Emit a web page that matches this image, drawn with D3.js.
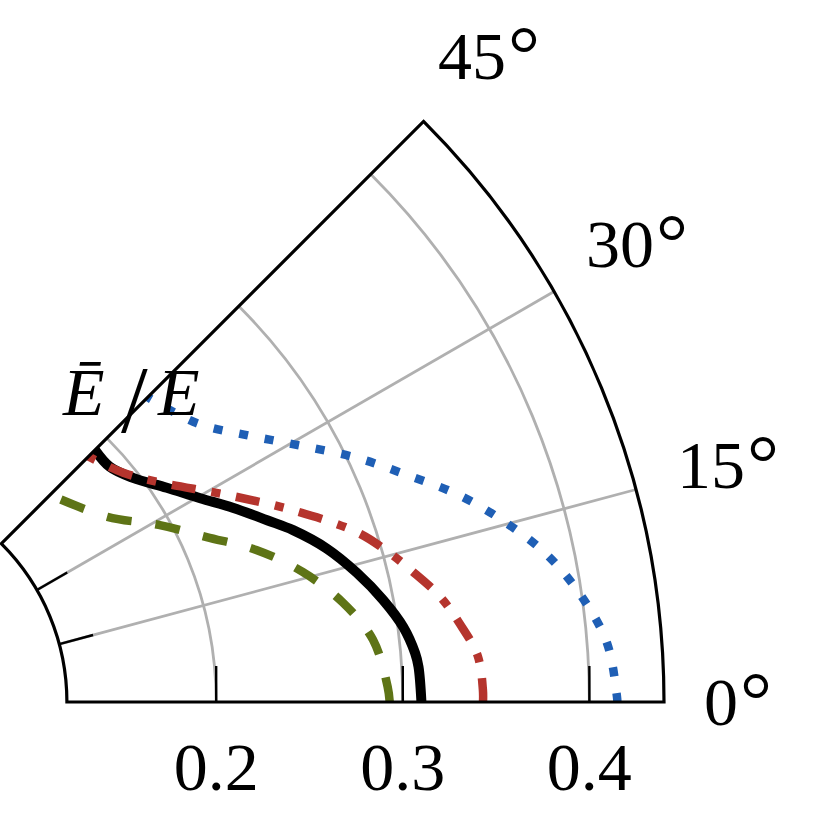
<!DOCTYPE html>
<html>
<head>
<meta charset="utf-8">
<script src="https://cdn.jsdelivr.net/npm/d3@7"></script>
<style>
  body { margin: 0; background: #fff; }
  svg { display: block; }
  text { font-family: "Liberation Serif", "DejaVu Serif", serif; fill: #000; }
</style>
</head>
<body>
<div id="chart"></div>
<script>
// axis settings
const rMin = 0.12, rMax = 0.44;
const thetaTicks = [0, 15, 30, 45];
const thetaLabels = ["0", "15", "30", "45"];
const rTicks = [0.2, 0.3, 0.4];
const rTickLabels = ["0.2", "0.3", "0.4"];

// curves: angle in degrees, radius
const blueTheta = [0, 0.4, 4.4, 8.1, 11.8, 15.2, 18.6, 21.9, 25.4, 29.1, 33.2, 38.2, 45];
const blueR     = [0.415, 0.4148, 0.4107, 0.400, 0.3855, 0.3677, 0.348, 0.326, 0.305, 0.282, 0.2606, 0.2415, 0.231];

const redTheta = [0, 1.1, 4.2, 7.3, 10.0, 12.7, 15.4, 18.3, 23.1, 28.3, 34.9, 39.3, 45];
const redR     = [0.343, 0.343, 0.341, 0.333, 0.325, 0.314, 0.303, 0.290, 0.262, 0.234, 0.206, 0.194, 0.186];

const blackTheta = [0, 3.5, 4.9, 7.6, 10.7, 14.1, 17.6, 20.9, 23.2, 26.5, 29.7, 33.5, 37.7, 41.4, 45];
const blackR     = [0.310, 0.309, 0.3077, 0.303, 0.2946, 0.284, 0.272, 0.2582, 0.2473, 0.2334, 0.2204, 0.2081, 0.1964, 0.1906, 0.191];

const oliveTheta = [0, 1.6, 6.7, 11.3, 15.8, 20.2, 24.4, 29.3, 35, 45];
const oliveR     = [0.293, 0.292, 0.286, 0.273, 0.256, 0.236, 0.214, 0.194, 0.173, 0.157];

const width = 833, height = 813;
const cx = -157, cy = 702;

const svg = d3.select("#chart")
  .append("svg")
    .attr("width", width)
    .attr("height", height);

svg.append("rect").attr("width", width).attr("height", height).attr("fill", "#fff");

const g = svg.append("g")
    .attr("transform", `translate(${cx},${cy})`);

// radius scale, origin of the polar axes at r = 0
const r = d3.scaleLinear().domain([0, rMax]).range([0, 821]);
const rad = d => d * Math.PI / 180;
const pt = (t, v) => [r(v) * Math.cos(rad(t)), -r(v) * Math.sin(rad(t))];

function arcPath(v, t0, t1) {
  const p = d3.path();
  p.arc(0, 0, r(v), -rad(t1), -rad(t0), false);
  return p.toString();
}

// ---------------- grid
rTicks.forEach(v => {
  g.append("path")
    .attr("d", arcPath(v, 0, 45))
    .attr("fill", "none")
    .attr("stroke", "#b0b0b0")
    .attr("stroke-width", 2.8);
});
thetaTicks.filter(t => t > 0 && t < 45).forEach(t => {
  const a = pt(t, rMin), b = pt(t, rMax);
  g.append("line")
    .attr("x1", a[0]).attr("y1", a[1])
    .attr("x2", b[0]).attr("y2", b[1])
    .attr("stroke", "#b0b0b0")
    .attr("stroke-width", 2.8);
});

// ---------------- ticks
rTicks.forEach(v => {
  g.append("line")
    .attr("x1", r(v)).attr("y1", 0)
    .attr("x2", r(v)).attr("y2", -36)
    .attr("stroke", "#000")
    .attr("stroke-width", 2.4);
});
thetaTicks.filter(t => t > 0 && t < 45).forEach(t => {
  const a = pt(t, rMin);
  const len = 35;
  g.append("line")
    .attr("x1", a[0]).attr("y1", a[1])
    .attr("x2", a[0] + len * Math.cos(rad(t))).attr("y2", a[1] - len * Math.sin(rad(t)))
    .attr("stroke", "#000")
    .attr("stroke-width", 2.4);
});

// ---------------- curves
const line = d3.line().curve(d3.curveCatmullRom.alpha(0.5));

function curve(thetas, rs, color, w, dash) {
  const pts = thetas.map((t, i) => pt(t, rs[i]));
  g.append("path")
    .attr("d", line(pts))
    .attr("fill", "none")
    .attr("stroke", color)
    .attr("stroke-width", w)
    .attr("stroke-dasharray", dash)
    .attr("stroke-linecap", "butt");
}

// black first, the dashed red sits on top of it where they touch
curve(blackTheta, blackR, "#000", 10, null);
curve(blueTheta, blueR, "#1f5fb5", 8.5, "9,17");
curve(redTheta, redR, "#b5342d", 8.5, "24,16,9,16");
curve(oliveTheta, oliveR, "#5e7416", 8.5, "25,24");

// ---------------- frame
const fp = d3.path();
const i0 = pt(0, rMin), o0 = pt(0, rMax), i45 = pt(45, rMin);
fp.moveTo(i0[0], i0[1]);
fp.lineTo(o0[0], o0[1]);
fp.arc(0, 0, r(rMax), 0, -rad(45), true);
fp.lineTo(i45[0], i45[1]);
fp.arc(0, 0, r(rMin), -rad(45), 0, false);
fp.closePath();
g.append("path")
  .attr("d", fp.toString())
  .attr("fill", "none")
  .attr("stroke", "#000")
  .attr("stroke-width", 3.2)
  .attr("stroke-linejoin", "miter");

// ---------------- labels
const fs = 68;
rTicks.forEach((v, i) => {
  g.append("text")
    .attr("x", r(v))
    .attr("y", 88)
    .attr("text-anchor", "middle")
    .style("font-size", fs + "px")
    .text(rTickLabels[i]);
});

thetaTicks.forEach((t, i) => {
  const txt = g.append("text")
    .style("font-size", fs + "px");
  txt.append("tspan").text(thetaLabels[i]);
  // slightly bigger ring for the degree sign, like the TeX \circ
  txt.append("tspan")
    .attr("dx", 2)
    .style("font-size", "80px")
    .attr("dy", 2)
    .text("°");
  const bb = txt.node().getBBox();
  const inkH = fs * 0.68;
  const half = bb.width / 2 * Math.abs(Math.cos(rad(t))) + inkH / 2 * Math.abs(Math.sin(rad(t)));
  const R = r(rMax) + 40 + half;
  const px = R * Math.cos(rad(t)), py = -R * Math.sin(rad(t));
  const bcx = bb.x + bb.width / 2;
  // vertical centre of the digits (baseline at 0)
  const bcy = -inkH / 2;
  txt.attr("transform", `translate(${px - bcx},${py - bcy})`);
});

// radial axis label  Ē / E
const lab = svg.append("text")
  .attr("y", 415)
  .style("font-size", fs + "px");
lab.append("tspan").attr("x", 63).style("font-style", "italic").text("Ē");
lab.append("tspan").attr("x", 121).attr("dy", 17).style("font-size", "96px").text("/");
lab.append("tspan").attr("x", 158).attr("dy", -17).style("font-style", "italic").text("E");
</script>
</body>
</html>
